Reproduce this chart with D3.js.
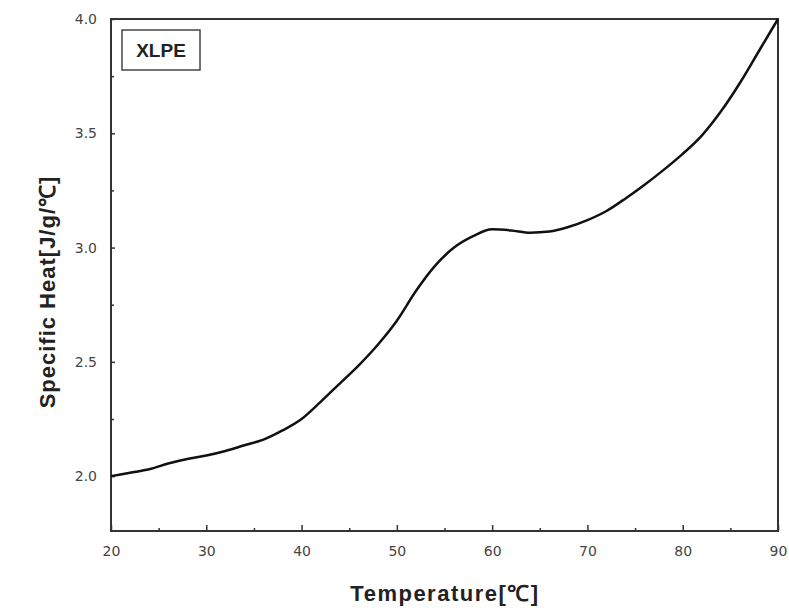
<!DOCTYPE html>
<html>
<head>
<meta charset="utf-8">
<script src="https://cdn.jsdelivr.net/npm/d3@7"></script>
<style>
  body { margin: 0; background: #fff; }
  svg { display: block; }
</style>
</head>
<body>
<script>
'use strict';
// temperature (°C) and specific heat (J/g/°C)
let temps = [20, 22, 24, 26, 28, 30, 32, 34, 36, 38, 40, 42, 44, 46, 48, 50, 52, 54, 56, 58,
             60, 62, 64, 66, 68, 70, 72, 74, 76, 78, 80, 82, 84, 86, 88, 90];
let heat = [2.00, 2.015, 2.03, 2.055, 2.075, 2.09, 2.11, 2.135, 2.16, 2.20, 2.25, 2.325, 2.405, 2.485, 2.575, 2.68, 2.81, 2.92, 3.00, 3.05,
            3.08, 3.075, 3.065, 3.07, 3.09, 3.12, 3.16, 3.215, 3.275, 3.34, 3.41, 3.49, 3.595, 3.72, 3.86, 4.00];
let xTicks = [20, 30, 40, 50, 60, 70, 80, 90];
let xMinor = [25, 35, 45, 55, 65, 75, 85];
let yTicks = [2.0, 2.5, 3.0, 3.5, 4.0];
let yMinor = [2.25, 2.75, 3.25, 3.75];

let W = 789, H = 608;
let mLeft = 111, mRight = 778, mTop = 19, mBottom = 531;

let svg = d3.select("body").append("svg")
	.attr("width", W)
	.attr("height", H);

let x = d3.scaleLinear().domain([20, 90]).range([mLeft, mRight]);
let y = d3.scaleLinear().domain([1.76, 4.0]).range([mBottom, mTop]);

let axisColor = "#333";

// ticks point inward
svg.append("g")
	.attr("transform", "translate(0," + mBottom + ")")
	.call(d3.axisBottom(x).tickValues(xTicks).tickSize(-6).tickPadding(15).tickFormat(d3.format("d")));
svg.append("g")
	.attr("transform", "translate(0," + mBottom + ")")
	.call(d3.axisBottom(x).tickValues(xMinor).tickSize(-3).tickFormat(""));
svg.append("g")
	.attr("transform", "translate(" + mLeft + ",0)")
	.call(d3.axisLeft(y).tickValues(yTicks).tickSize(-4).tickPadding(14).tickFormat(d3.format(".1f")));
svg.append("g")
	.attr("transform", "translate(" + mLeft + ",0)")
	.call(d3.axisLeft(y).tickValues(yMinor).tickSize(-3).tickFormat(""));

svg.selectAll(".domain").remove();
svg.selectAll(".tick line").attr("stroke", axisColor).attr("stroke-width", 1.5);
svg.selectAll(".tick text")
	.attr("fill", "#444")
	.style("font-family", "'DejaVu Sans', sans-serif")
	.style("font-size", "14px");

// frame
svg.append("rect")
	.attr("x", mLeft).attr("y", mTop)
	.attr("width", mRight - mLeft).attr("height", mBottom - mTop)
	.attr("fill", "none")
	.attr("stroke", axisColor)
	.attr("stroke-width", 2);

// curve
let line = d3.line()
	.x(function(d, i){ return x(temps[i]); })
	.y(function(d, i){ return y(d); })
	.curve(d3.curveMonotoneX);

svg.append("path")
	.datum(heat)
	.attr("d", line)
	.attr("fill", "none")
	.attr("stroke", "#111")
	.attr("stroke-width", 2.5);

// label box
svg.append("rect")
	.attr("x", 122).attr("y", 30)
	.attr("width", 78).attr("height", 40)
	.attr("fill", "#fff")
	.attr("stroke", "#444")
	.attr("stroke-width", 1.5);
svg.append("text")
	.attr("x", 161).attr("y", 57)
	.attr("text-anchor", "middle")
	.style("font-family", "'Liberation Sans', Arial, sans-serif")
	.style("font-weight", "bold")
	.style("font-size", "19px")
	.attr("fill", "#222")
	.text("XLPE");

// axis titles
svg.append("text")
	.attr("x", 445).attr("y", 601)
	.attr("text-anchor", "middle")
	.style("font-family", "'Liberation Sans', Arial, sans-serif")
	.style("font-weight", "bold")
	.style("font-size", "22px")
	.style("letter-spacing", "1.5px")
	.attr("fill", "#222")
	.text("Temperature[℃]");

svg.append("text")
	.attr("transform", "translate(55,292) rotate(-90)")
	.attr("text-anchor", "middle")
	.style("font-family", "'Liberation Sans', Arial, sans-serif")
	.style("font-weight", "bold")
	.style("font-size", "22px")
	.style("letter-spacing", "1px")
	.attr("fill", "#222")
	.text("Specific Heat[J/g/℃]");
</script>
</body>
</html>
